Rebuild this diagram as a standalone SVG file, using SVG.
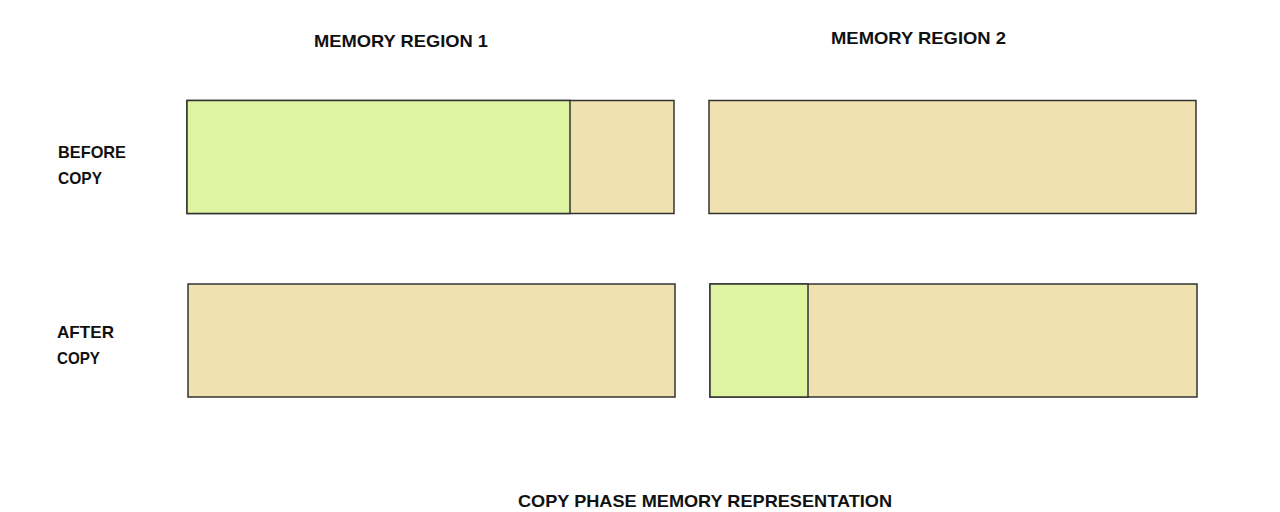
<svg xmlns="http://www.w3.org/2000/svg" width="1280" height="512" viewBox="0 0 1280 512">
<style>
.t{font-family:"Liberation Sans","DejaVu Sans",sans-serif;font-weight:bold;font-size:17px;fill:#111}
.tan{fill:#efe2b0;stroke:#333;stroke-width:1.5}
.grn{fill:#dff4a0;stroke:#333;stroke-width:1.5}
</style>
<rect width="1280" height="512" fill="#fff"/>
<g id="labels">
<text class="t" x="314" y="47" textLength="174" lengthAdjust="spacingAndGlyphs">MEMORY REGION 1</text>
<text class="t" x="831" y="44" textLength="175" lengthAdjust="spacingAndGlyphs">MEMORY REGION 2</text>
<text class="t" x="58" y="158" textLength="68" lengthAdjust="spacingAndGlyphs">BEFORE</text>
<text class="t" x="58" y="184" textLength="44" lengthAdjust="spacingAndGlyphs">COPY</text>
<text class="t" x="57" y="338" textLength="57" lengthAdjust="spacingAndGlyphs">AFTER</text>
<text class="t" x="57" y="364" textLength="43" lengthAdjust="spacingAndGlyphs">COPY</text>
<text class="t" x="518" y="507" textLength="374" lengthAdjust="spacingAndGlyphs">COPY PHASE MEMORY REPRESENTATION</text>
</g>
<g id="before-region1">
<rect class="tan" x="187" y="100.5" width="487" height="113"/>
<rect class="grn" x="187" y="100.5" width="383" height="113"/>
</g>
<g id="before-region2">
<rect class="tan" x="709" y="100.5" width="487" height="113"/>
</g>
<g id="after-region1">
<rect class="tan" x="188" y="284" width="487" height="113"/>
</g>
<g id="after-region2">
<rect class="tan" x="710" y="284" width="487" height="113"/>
<rect class="grn" x="710" y="284" width="98" height="113"/>
</g>
<g id="connectors"></g>
</svg>
